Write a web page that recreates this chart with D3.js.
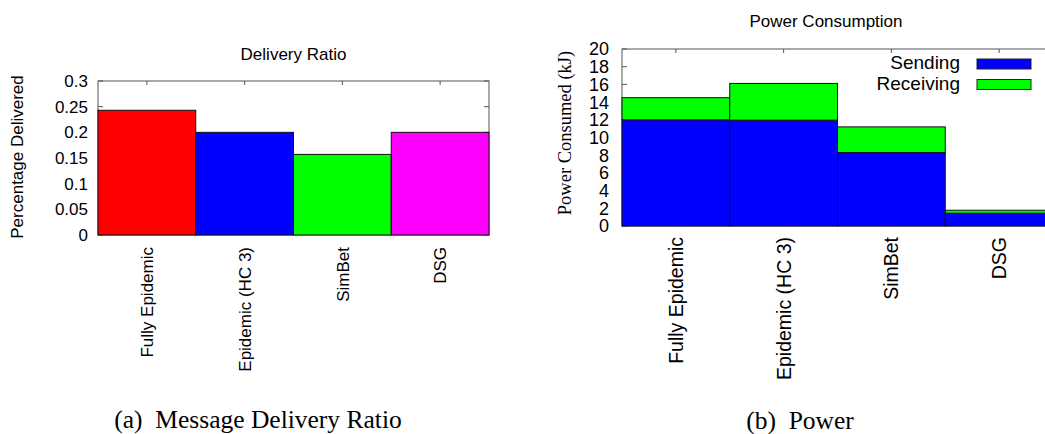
<!DOCTYPE html>
<html>
<head>
<meta charset="utf-8">
<script src="https://cdn.jsdelivr.net/npm/d3@7"></script>
<style>
  body { margin: 0; background: #fff; }
  svg { display: block; font-family: "Liberation Sans", Arial, sans-serif; }
</style>
</head>
<body>
<div id="chart"></div>
<script>
'use strict';

// ---- data ----
var protocols      = ['Fully Epidemic', 'Epidemic (HC 3)', 'SimBet', 'DSG'];
var deliveryRatio  = [0.243, 0.200, 0.157, 0.200];
var deliveryColors = ['#ff0000', '#0000ff', '#00ff00', '#ff00ff'];
var ratioTicks     = [0, 0.05, 0.1, 0.15, 0.2, 0.25, 0.3];
var ratioLabels    = ['0', '0.05', '0.1', '0.15', '0.2', '0.25', '0.3'];

var powerSending   = [12.0, 11.96, 8.3, 1.45];
var powerReceiving = [2.5, 4.15, 2.9, 0.33];
var powerKeys      = ['Sending', 'Receiving'];
var powerColors    = ['#0000ff', '#00ff00'];
var powerTicks     = [0, 2, 4, 6, 8, 10, 12, 14, 16, 18, 20];

function barPanel()
{
    var scope = this;
    var exports = {};

    scope.box = {left: 0, right: 0, top: 0, bottom: 0};
    scope.font = 17;
    scope.catFont = 17;
    scope.xScale = undefined;
    scope.yScale = undefined;

    scope.createScales = function(domainMax)
    {
        scope.xScale = d3.scaleBand().domain(protocols)
            .range([scope.box.left, scope.box.right]).paddingInner(0).paddingOuter(0);
        scope.yScale = d3.scaleLinear().domain([0, domainMax])
            .range([scope.box.bottom, scope.box.top]);
    }

    scope.drawFrame = function(svg, ticks, labels, labelX)
    {
        var b = scope.box;
        var g = svg.append('g').attr('class', 'frame');

        g.append('rect')
            .attr('x', b.left).attr('y', b.top)
            .attr('width', b.right - b.left).attr('height', b.bottom - b.top)
            .attr('fill', 'none').attr('stroke', '#555').attr('stroke-width', 1);

        // inward ticks, mirrored like gnuplot
        g.selectAll('.yl').data(ticks).enter().append('line')
            .attr('x1', b.left).attr('x2', b.left + 5)
            .attr('y1', function(d){ return scope.yScale(d); })
            .attr('y2', function(d){ return scope.yScale(d); })
            .attr('stroke', '#555');
        g.selectAll('.yr').data(ticks).enter().append('line')
            .attr('x1', b.right).attr('x2', b.right - 5)
            .attr('y1', function(d){ return scope.yScale(d); })
            .attr('y2', function(d){ return scope.yScale(d); })
            .attr('stroke', '#555');
        g.selectAll('.xt').data(protocols).enter().append('line')
            .attr('x1', function(d){ return scope.xScale(d) + scope.xScale.bandwidth() / 2; })
            .attr('x2', function(d){ return scope.xScale(d) + scope.xScale.bandwidth() / 2; })
            .attr('y1', b.top).attr('y2', b.top + 4)
            .attr('stroke', '#555');

        g.selectAll('.ylab').data(ticks).enter().append('text')
            .attr('x', labelX)
            .attr('y', function(d){ return scope.yScale(d); })
            .attr('dy', '0.36em')
            .attr('text-anchor', 'end')
            .style('font-size', scope.font + 'px')
            .text(function(d, i){ return labels[i]; });
    }

    scope.drawCategoryLabels = function(svg, top)
    {
        svg.append('g').selectAll('text').data(protocols).enter().append('text')
            .attr('transform', function(d){
                var cx = scope.xScale(d) + scope.xScale.bandwidth() / 2;
                return 'translate(' + cx + ',' + top + ') rotate(-90)';
            })
            .attr('dy', '0.36em')
            .attr('text-anchor', 'end')
            .style('font-size', scope.catFont + 'px')
            .text(function(d){ return d; });
    }

    exports.scope = scope;
    return exports;
}

function drawDelivery(svg)
{
    var p = barPanel.call({});
    var s = p.scope;
    s.box = {left: 98, right: 489, top: 81, bottom: 235};
    s.font = 17;
    s.catFont = 17;
    s.createScales(0.3);
    s.drawFrame(svg, ratioTicks, ratioLabels, 88);

    svg.append('g').selectAll('rect').data(deliveryRatio).enter().append('rect')
        .attr('x', function(d, i){ return s.xScale(protocols[i]); })
        .attr('y', function(d){ return s.yScale(d); })
        .attr('width', s.xScale.bandwidth())
        .attr('height', function(d){ return s.yScale(0) - s.yScale(d); })
        .attr('fill', function(d, i){ return deliveryColors[i]; })
        .attr('stroke', '#111').attr('stroke-width', 1);

    s.drawCategoryLabels(svg, 247);

    svg.append('text')
        .attr('x', 293.5).attr('y', 60)
        .attr('text-anchor', 'middle')
        .style('font-size', '17px')
        .text('Delivery Ratio');

    svg.append('text')
        .attr('transform', 'translate(17,157) rotate(-90)')
        .attr('dy', '0.36em')
        .attr('text-anchor', 'middle')
        .style('font-size', '17px')
        .text('Percentage Delivered');
}

function drawPower(svg)
{
    var p = barPanel.call({});
    var s = p.scope;
    s.box = {left: 622, right: 1053, top: 49, bottom: 226};
    s.font = 18;
    s.catFont = 19.5;
    s.createScales(20);
    s.drawFrame(svg, powerTicks, powerTicks.map(String), 609);

    var rows = protocols.map(function(name, i){
        return {name: name, Sending: powerSending[i], Receiving: powerReceiving[i]};
    });
    var series = d3.stack().keys(powerKeys)(rows);

    svg.append('g').selectAll('g').data(series).enter().append('g')
        .attr('fill', function(d, i){ return powerColors[i]; })
        .selectAll('rect').data(function(d){ return d; }).enter().append('rect')
        .attr('x', function(d){ return s.xScale(d.data.name); })
        .attr('y', function(d){ return s.yScale(d[1]); })
        .attr('width', s.xScale.bandwidth())
        .attr('height', function(d){ return s.yScale(d[0]) - s.yScale(d[1]); })
        .attr('stroke', '#111').attr('stroke-width', 1);

    s.drawCategoryLabels(svg, 237);

    svg.append('text')
        .attr('x', 826).attr('y', 27)
        .attr('text-anchor', 'middle')
        .style('font-size', '17px')
        .text('Power Consumption');

    svg.append('text')
        .attr('transform', 'translate(564,133) rotate(-90)')
        .attr('dy', '0.36em')
        .attr('text-anchor', 'middle')
        .style('font-family', '"Liberation Serif", "Times New Roman", serif')
        .style('font-size', '18.5px')
        .text('Power Consumed (kJ)');

    // legend
    var legend = svg.append('g').selectAll('g').data(powerKeys).enter().append('g')
        .attr('transform', function(d, i){ return 'translate(0,' + (i * 20.5) + ')'; });
    legend.append('text')
        .attr('x', 960).attr('y', 69)
        .attr('text-anchor', 'end')
        .style('font-size', '19px')
        .text(function(d){ return d; });
    legend.append('rect')
        .attr('x', 977).attr('y', 59)
        .attr('width', 54).attr('height', 10)
        .attr('fill', function(d, i){ return powerColors[i]; })
        .attr('stroke', '#222');
}

var svg = d3.select('#chart').append('svg')
    .attr('width', 1045).attr('height', 434);

drawDelivery(svg);
drawPower(svg);

// sub-figure captions
var serif = '"Liberation Serif", "Times New Roman", serif';
svg.append('text').attr('x', 258).attr('y', 428)
    .attr('text-anchor', 'middle')
    .style('font-family', serif).style('font-size', '25.5px')
    .attr('xml:space', 'preserve')
    .text('(a)  Message Delivery Ratio');
svg.append('text').attr('x', 800).attr('y', 429)
    .attr('text-anchor', 'middle')
    .style('font-family', serif).style('font-size', '25.5px')
    .attr('xml:space', 'preserve')
    .text('(b)  Power');
</script>
</body>
</html>
